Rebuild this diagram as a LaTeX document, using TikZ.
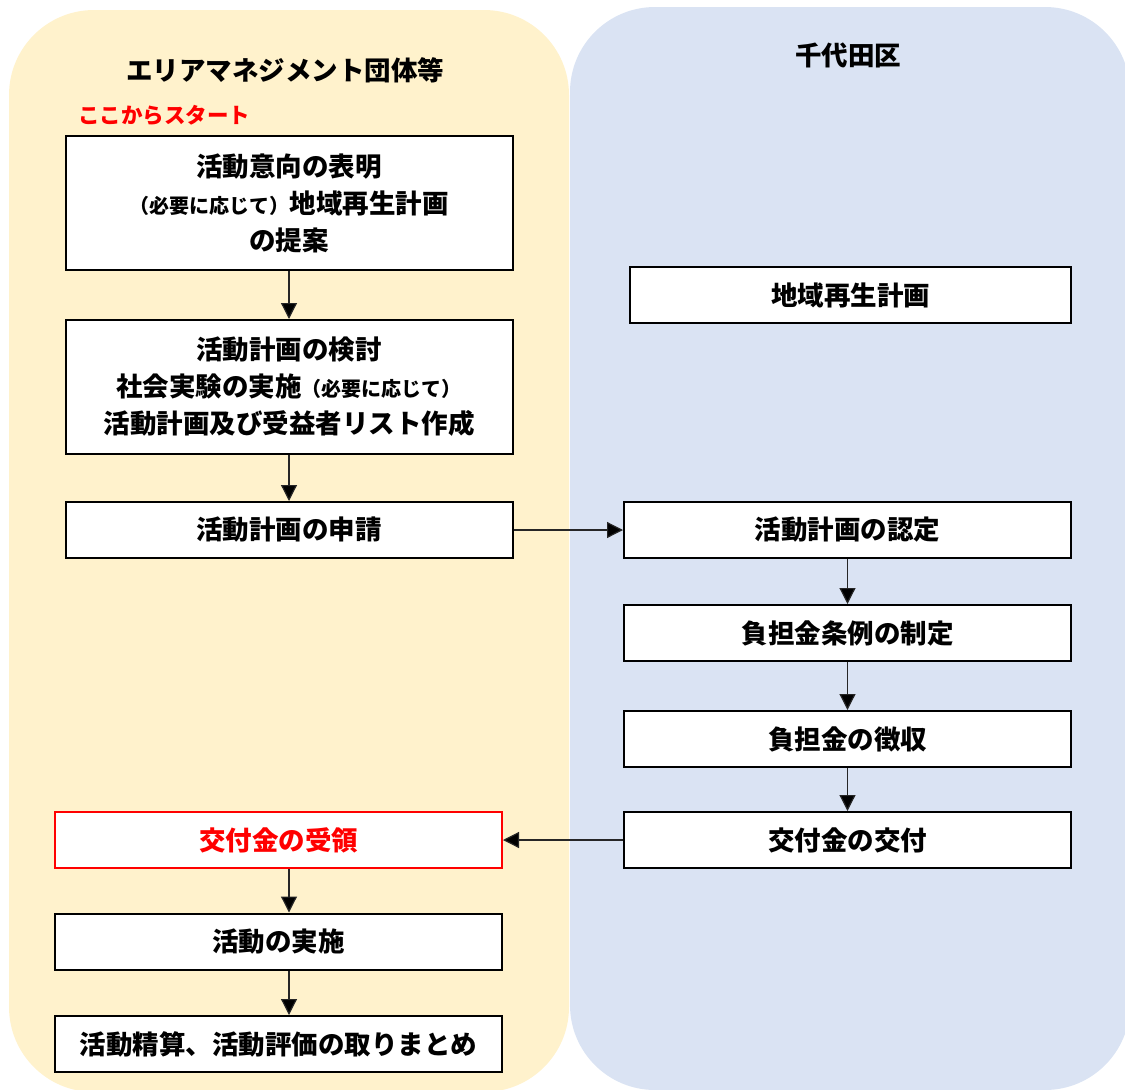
\documentclass[tikz,border=0pt]{standalone}
\usepackage{fontspec}
\setmainfont{Noto Sans CJK JP}
\usetikzlibrary{arrows.meta}
\definecolor{ylw}{HTML}{FFF2CC}
\definecolor{blu}{HTML}{DAE3F3}
\definecolor{startred}{HTML}{FF0000}
\newcommand{\smalltxt}[1]{{\fontsize{20}{37}\selectfont #1}}
\begin{document}
\begin{tikzpicture}[x=1pt,y=-1pt,
  box/.style={draw=black,line width=2pt,fill=white,inner sep=0pt,align=center,
    minimum width=447pt,minimum height=56pt,
    font=\bfseries\fontsize{26.5}{37}\selectfont},
  tall/.style={minimum height=134pt},
  ttl/.style={font=\bfseries\fontsize{26.5}{30}\selectfont,inner sep=0pt},
  conn/.style={line width=1.2pt,draw=black!85,-{Triangle[length=16pt,width=16pt,fill=black]}}]
\useasboundingbox (0,0) rectangle (1125,1090);
\begin{scope}
\clip (0,0) rectangle (1125,1090);
\fill[ylw,rounded corners=85pt] (9,10) rectangle (569,1092);
\fill[blu,rounded corners=85pt] (570,7) rectangle (1130,1090);
\end{scope}
% titles
\node[ttl] (t1) at (285,70) {エリアマネジメント団体等};
\node[ttl] (t2) at (848,55) {千代田区};
\node[font=\bfseries\fontsize{21.5}{24}\selectfont,text=startred,inner sep=0pt] (st) at (164,115) {ここからスタート};
% left column
\node[box,tall] (b1) at (289,203) {活動意向の表明\\\smalltxt{（必要に応じて）}地域再生計画\\の提案};
\node[box,tall] (b2) at (289,387) {活動計画の検討\\社会実験の実施\smalltxt{（必要に応じて）}\\活動計画及び受益者リスト作成};
\node[box] (b3) at (289,530) {活動計画の申請};
\node[box,draw=startred,text=startred] (b4) at (278.5,840) {交付金の受領};
\node[box] (b5) at (278.5,941.5) {活動の実施};
\node[box] (b6) at (278.5,1044) {活動精算、活動評価の取りまとめ};
% right column
\node[box,minimum width=441pt] (r1) at (850.5,295) {地域再生計画};
\node[box] (r2) at (847.5,530) {活動計画の認定};
\node[box] (r3) at (847.5,633) {負担金条例の制定};
\node[box] (r4) at (847.5,739) {負担金の徴収};
\node[box] (r5) at (847.5,840) {交付金の交付};
% connectors
\draw[conn] (b1) -- (b2);
\draw[conn] (b2) -- (b3);
\draw[conn] (b3) -- (r2);
\draw[conn] (r2) -- (r3);
\draw[conn] (r3) -- (r4);
\draw[conn] (r4) -- (r5);
\draw[conn] (r5) -- (b4);
\draw[conn] (b4.south -| b3.south) -- (b5.north -| b3.south);
\draw[conn] (b5.south -| b3.south) -- (b6.north -| b3.south);
\end{tikzpicture}
\end{document}
